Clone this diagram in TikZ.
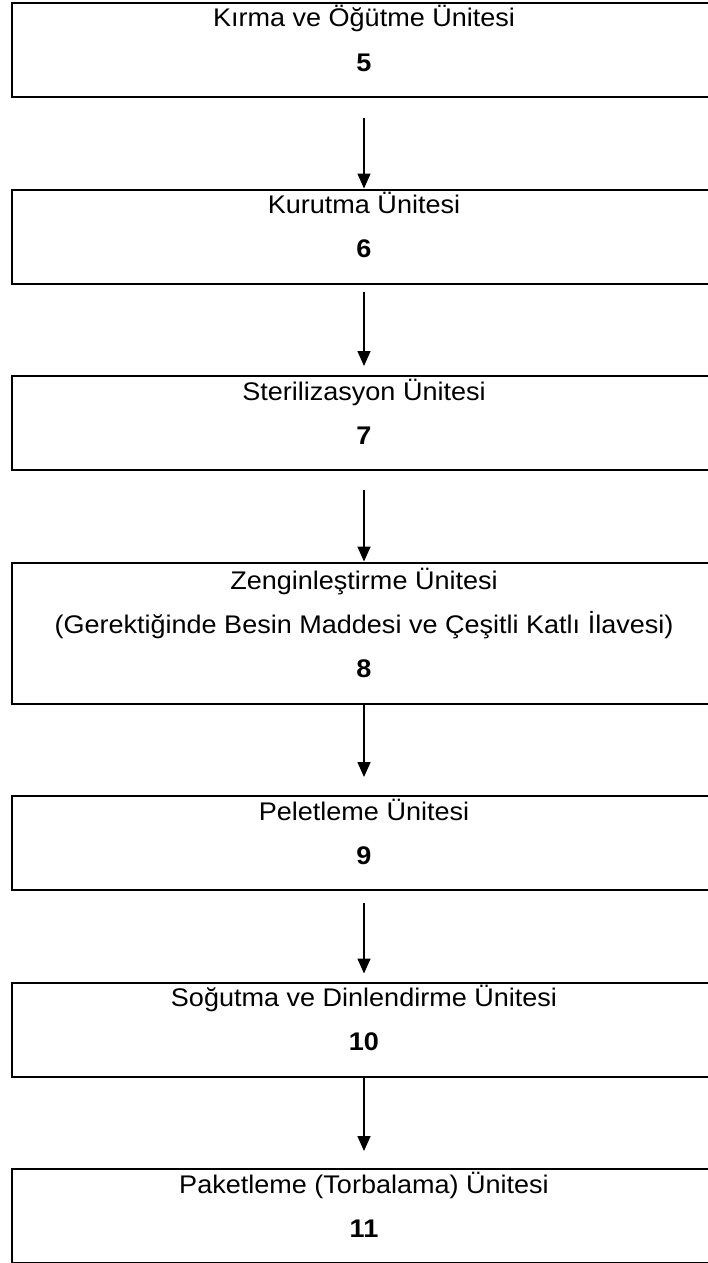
\documentclass[tikz,border=0pt]{standalone}
\usepackage{fontspec}
\setmainfont[FakeStretch=1.06]{Liberation Sans}
\usetikzlibrary{arrows.meta, positioning}

\begin{document}
\begin{tikzpicture}[x=1pt, y=1pt,
  node distance=90.5pt,
  unit/.style={draw=black, line width=2pt, align=center, inner sep=0pt,
               minimum width=704pt, text height=68pt, text depth=26pt,
               font=\fontsize{25.5}{44}\selectfont},
  tall/.style={unit, text height=115pt, text depth=26pt},
  arr/.style={-{Triangle[width=13pt, length=15pt]}, line width=1.6pt}]
\useasboundingbox (0,0) rectangle (708,-1263);
\clip (0,0) rectangle (708,-1263);
\node[unit, anchor=north] (b1) at (364,-2) {Kırma ve Öğütme Ünitesi\\\textbf{5}};
\node[unit, below=of b1] (b2) {Kurutma Ünitesi\\\textbf{6}};
\node[unit, below=of b2] (b3) {Sterilizasyon Ünitesi\\\textbf{7}};
\node[tall, below=of b3] (b4) {Zenginleştirme Ünitesi\\(Gerektiğinde Besin Maddesi ve Çeşitli Katlı İlavesi)\\\textbf{8}};
\node[unit, below=of b4] (b5) {Peletleme Ünitesi\\\textbf{9}};
\node[unit, below=of b5] (b6) {Soğutma ve Dinlendirme Ünitesi\\\textbf{10}};
\node[unit, below=of b6] (b7) {Paketleme (Torbalama) Ünitesi\\\textbf{11}};
\foreach \a/\b/\s/\e in {b1/b2/20/0, b2/b3/7/9, b3/b4/19/0, b4/b5/0/18, b5/b6/12/8, b6/b7/0/17}
  \draw[arr, shorten <=\s pt, shorten >=\e pt] (\a) -- (\b);
\end{tikzpicture}
\end{document}
